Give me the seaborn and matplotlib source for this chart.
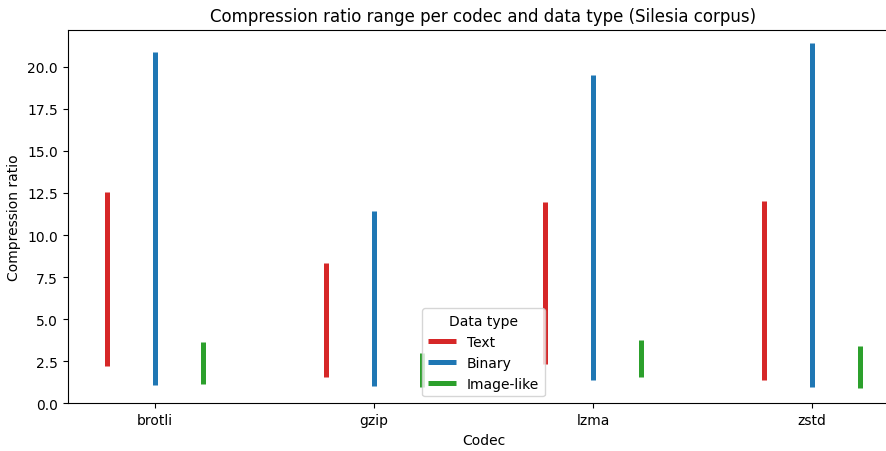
import matplotlib
matplotlib.use("Agg")
import matplotlib.pyplot as plt
import seaborn as sns
import pandas as pd

codecs = ["brotli", "gzip", "lzma", "zstd"]
dtypes = ["Text", "Binary", "Image-like"]
# min / max compression ratio per codec
text_min = [2.19, 1.59, 2.35, 1.36]
text_max = [12.58, 8.31, 11.95, 12.01]
binary_min = [1.10, 1.02, 1.36, 0.96]
binary_max = [20.90, 11.42, 19.48, 21.42]
image_min = [1.14, 0.96, 1.55, 0.90]
image_max = [3.67, 2.98, 3.79, 3.40]

palette = {"Text": "#d62728", "Binary": "#1f77b4", "Image-like": "#2ca02c"}
offsets = {"Text": -0.22, "Binary": 0.0, "Image-like": 0.22}

ranges = {"Text": (text_min, text_max),
          "Binary": (binary_min, binary_max),
          "Image-like": (image_min, image_max)}

rows = []
uid = 0
for dt in dtypes:
    mins, maxs = ranges[dt]
    for i, c in enumerate(codecs):
        for v in (mins[i], maxs[i]):
            rows.append({"x": i + offsets[dt], "ratio": v, "Data type": dt, "uid": uid})
        uid += 1
df = pd.DataFrame(rows)

fig = plt.figure(figsize=(8.87, 4.52), dpi=100)
ax = fig.add_axes([67.5 / 887, (452 - 404.3) / 452, 832 / 887, (404.3 - 30.7) / 452])

sns.lineplot(data=df, x="x", y="ratio", hue="Data type", units="uid",
             estimator=None, palette=palette, hue_order=dtypes,
             linewidth=3.6, ax=ax, sort=False, solid_capstyle="butt")

ax.set_xlim(-0.4, 3.4)
ax.set_ylim(0, 22.2)
ax.set_xticks(range(len(codecs)))
ax.set_xticklabels(codecs)
ax.set_xlabel("Codec")
ax.set_ylabel("Compression ratio")
ax.set_title("Compression ratio range per codec and data type (Silesia corpus)", fontsize=12)
ax.legend(title="Data type", loc="lower center")

fig.savefig("out.png", dpi=100)
